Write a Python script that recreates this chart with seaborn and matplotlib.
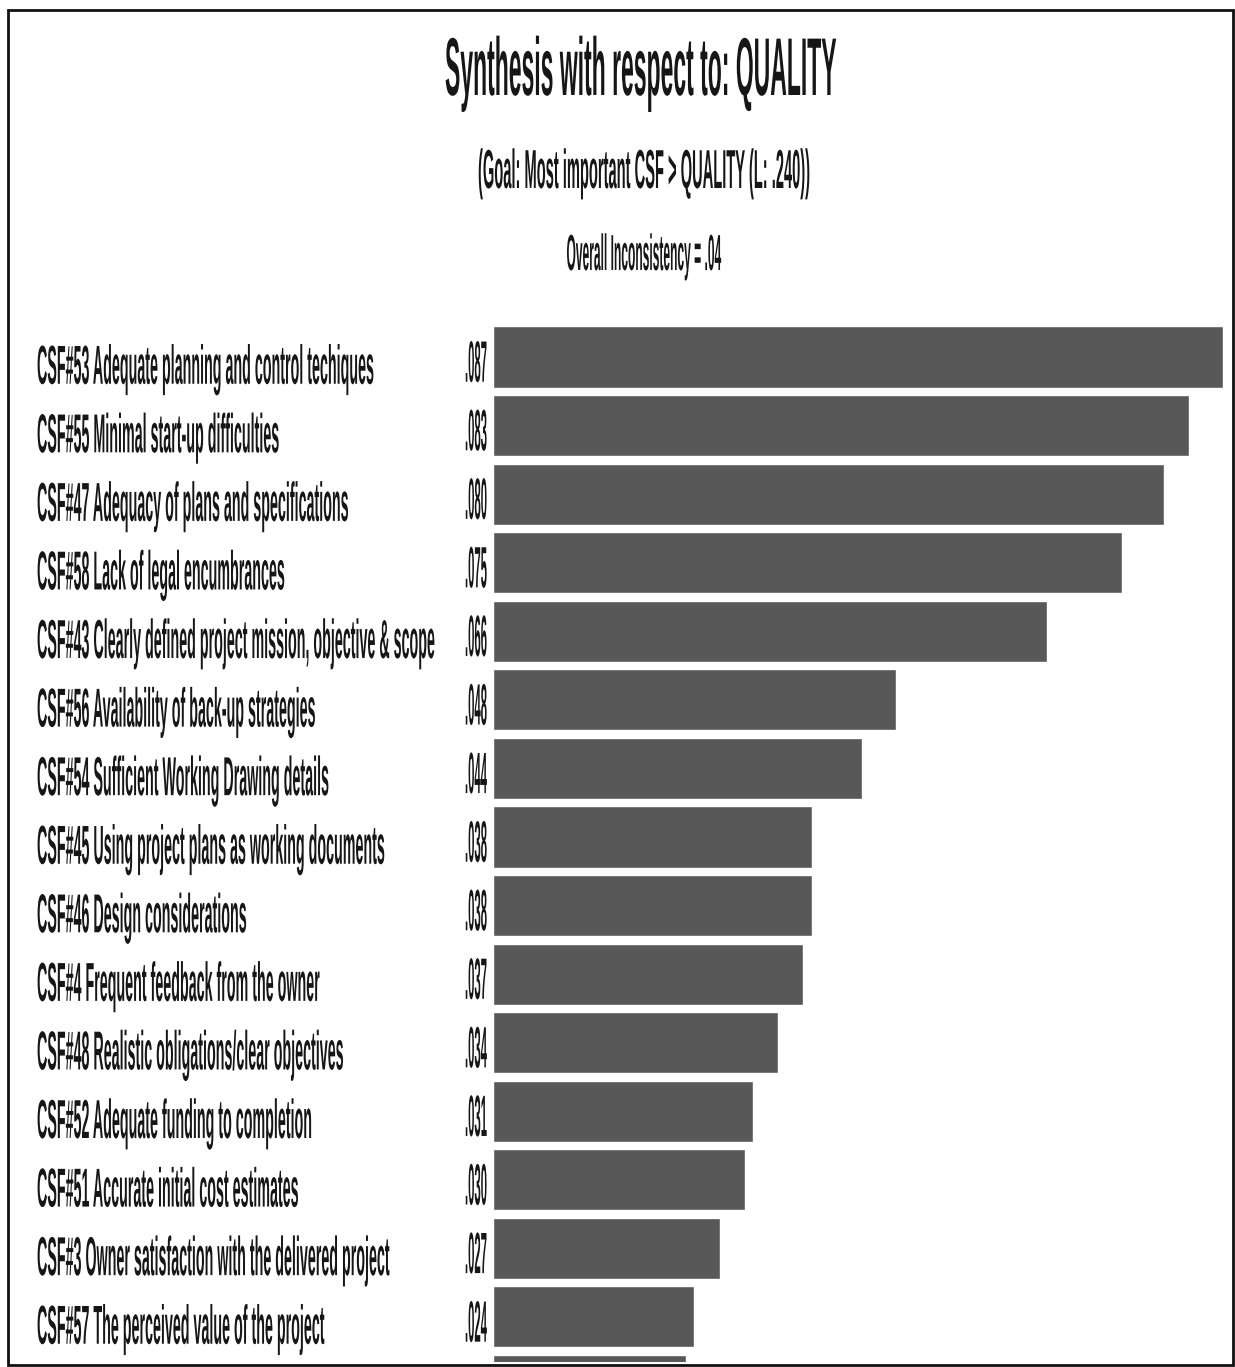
import matplotlib
matplotlib.use("Agg")
import matplotlib.pyplot as plt
import pandas as pd
import seaborn as sns
from matplotlib import patheffects
from matplotlib.patches import Rectangle
from matplotlib.text import Text
from matplotlib.transforms import Affine2D, Bbox, blended_transform_factory

# Local priorities of the critical success factors under the QUALITY criterion
factors = [
    "CSF#53 Adequate planning and control techiques",
    "CSF#55 Minimal start-up difficulties",
    "CSF#47 Adequacy of plans and specifications",
    "CSF#58 Lack of legal encumbrances",
    "CSF#43 Clearly defined project mission, objective & scope",
    "CSF#56 Availability of back-up strategies",
    "CSF#54 Sufficient Working Drawing details",
    "CSF#45 Using project plans as working documents",
    "CSF#46 Design considerations",
    "CSF#4 Frequent feedback from the owner",
    "CSF#48 Realistic obligations/clear objectives",
    "CSF#52 Adequate funding to completion",
    "CSF#51 Accurate initial cost estimates",
    "CSF#3 Owner satisfaction with the delivered project",
    "CSF#57 The perceived value of the project",
    "",
]
weights = [0.087, 0.083, 0.080, 0.075, 0.066, 0.048, 0.044, 0.038,
           0.038, 0.037, 0.034, 0.031, 0.030, 0.027, 0.024, 0.023]
value_labels = [".087", ".083", ".080", ".075", ".066", ".048", ".044", ".038",
                ".038", ".037", ".034", ".031", ".030", ".027", ".024", ""]

title = "Synthesis with respect to: QUALITY"
subtitle = "(Goal: Most important CSF > QUALITY (L: .240))"
inconsistency = "Overall Inconsistency = .04"

sns.set_theme(style="white")
plt.rcParams["font.family"] = ["Liberation Sans Narrow", "Liberation Sans", "DejaVu Sans"]

W, H = 1235, 1367
fig = plt.figure(figsize=(W / 100, H / 100), dpi=100)
fig.patch.set_facecolor("white")

# bar area in pixel units
row_px = 68.57
first_center_px = 357
ax_top_px, ax_bot_px = 300, 1362
ax_left_px, ax_right_px = 493, 1223

ax = fig.add_axes([ax_left_px / W, 1 - ax_bot_px / H,
                   (ax_right_px - ax_left_px) / W, (ax_bot_px - ax_top_px) / H])

df = pd.DataFrame({"factor": factors, "weight": weights})
sns.barplot(data=df, x="weight", y="factor", order=factors, orient="h",
            color="#585858", saturation=1, width=0.89, ax=ax)
ax.set_xlim(0, max(weights))
ax.set_ylim((ax_bot_px - first_center_px) / row_px,
            (ax_top_px - first_center_px) / row_px)
ax.axis("off")


class CondensedText(Text):
    """Text whose glyphs are squeezed horizontally about its anchor point."""

    sx = 1.0

    def _anchor_x(self):
        return self.get_transform().transform(self.get_position())[0]

    def get_window_extent(self, renderer=None, dpi=None):
        bb = super().get_window_extent(renderer, dpi)
        if self.sx == 1.0:
            return bb
        x0 = self._anchor_x()
        (a, b), (c, d) = bb.get_points()
        return Bbox([[x0 + (a - x0) * self.sx, b], [x0 + (c - x0) * self.sx, d]])


class Squeeze(patheffects.AbstractPathEffect):
    def __init__(self, text):
        super().__init__()
        self.text = text

    def draw_path(self, renderer, gc, tpath, affine, rgbFace=None):
        x0 = self.text._anchor_x()
        sx = self.text.sx
        sq = Affine2D().translate(-x0, 0).scale(sx, 1).translate(x0, 0)
        renderer.draw_path(gc, tpath, affine + sq, rgbFace)


renderer = fig.canvas.get_renderer()
ink = "#161616"


def add_text(parent, x, y, s, transform, **kw):
    t = CondensedText(x, y, s, transform=transform, color=ink,
                      fontweight="bold", va="baseline", clip_on=False, **kw)
    parent.add_artist(t)
    t.set_path_effects([Squeeze(t)])
    return t


def condense(texts, ref, width_px):
    """Squeeze all texts by the factor that makes `ref` span width_px."""
    sx = width_px / ref.get_window_extent(renderer).width
    for t in texts:
        t.sx = sx


row_tf = blended_transform_factory(fig.transFigure, ax.transData)

name_texts, value_texts = [], []
for i, (name, lab) in enumerate(zip(factors, value_labels)):
    if not name:
        continue
    name_texts.append(add_text(ax, 37 / W, i + 0.39, name, row_tf,
                               ha="left", fontsize=39.5))
    value_texts.append(add_text(ax, 487 / W, i + 0.36, lab, row_tf,
                                ha="right", fontsize=42))

condense(name_texts, name_texts[4], 398)
condense(value_texts, value_texts[0], 22)

t_title = add_text(fig, 641 / W, 1 - 95 / H, title, fig.transFigure,
                   ha="center", fontsize=59)
condense([t_title], t_title, 392)
t_sub = add_text(fig, 644 / W, 1 - 188 / H, subtitle, fig.transFigure,
                 ha="center", fontsize=39.5)
condense([t_sub], t_sub, 332)
t_inc = add_text(fig, 644 / W, 1 - 270 / H, inconsistency, fig.transFigure,
                 ha="center", fontsize=36.5)
condense([t_inc], t_inc, 155)

# frame around the whole panel
fig.add_artist(Rectangle((8 / W, 1 - 1365 / H), 1225 / W, 1355 / H,
                         transform=fig.transFigure, fill=False,
                         lw=2, ec="#111111"))

fig.savefig("out.png", dpi=100, facecolor="white")
